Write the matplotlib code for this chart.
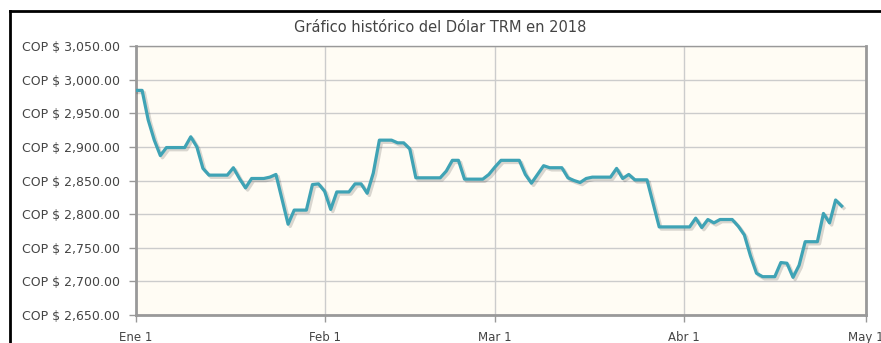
import matplotlib
matplotlib.use("Agg")
import matplotlib.pyplot as plt
import matplotlib.patheffects as pe
from matplotlib.lines import Line2D
from matplotlib.ticker import FuncFormatter
import pandas as pd

# TRM diaria (COP por USD), desde el 1 de enero de 2018
trm = [
    2984, 2984, 2940, 2910, 2887, 2899, 2899, 2899, 2899, 2915,
    2900, 2868, 2858, 2858, 2858, 2858, 2869, 2853, 2839, 2853,
    2853, 2853, 2855, 2859, 2822, 2785, 2806, 2806, 2806, 2844,
    2845, 2834, 2807, 2833, 2833, 2833, 2845, 2845, 2831, 2861,
    2910, 2910, 2910, 2906, 2906, 2897, 2854, 2854, 2854, 2854,
    2854, 2864, 2880, 2880, 2852, 2852, 2852, 2852, 2859, 2870,
    2880, 2880, 2880, 2880, 2859, 2846, 2859, 2872, 2869, 2869,
    2869, 2854, 2850, 2847, 2853, 2855, 2855, 2855, 2855, 2868,
    2853, 2859, 2851, 2851, 2851, 2816, 2781, 2781, 2781, 2781,
    2781, 2781, 2794, 2780, 2792, 2787, 2792, 2792, 2792, 2782,
    2769, 2738, 2712, 2707, 2707, 2707, 2728, 2727, 2706, 2724,
    2759, 2759, 2759, 2801, 2787, 2821, 2812,
]
fechas = pd.date_range("2018-01-01", periods=len(trm), freq="D")

meses = ["Ene 1", "Feb 1", "Mar 1", "Abr 1", "May 1"]
inicio_mes = pd.to_datetime(["2018-01-01", "2018-02-01", "2018-03-01",
                             "2018-04-01", "2018-05-01"])
y_ticks = list(range(2650, 3051, 50))

fig = plt.figure(figsize=(8.81, 3.43), dpi=100)
ax = fig.add_axes([0.1544, 0.0816, 0.983 - 0.1544, 0.8659 - 0.0816])
ax.set_facecolor("#fffcf4")

ax.plot(fechas, trm, color="#3fa3b5", lw=2.3, solid_joinstyle="round",
        path_effects=[pe.SimpleLineShadow(offset=(1.5, -1.5), shadow_color="#000000",
                                          alpha=0.15, linewidth=2.5),
                      pe.Normal()], zorder=3)

ax.set_xlim(inicio_mes[0], inicio_mes[-1])
ax.set_ylim(2650, 3050)
ax.set_xticks(inicio_mes)
ax.set_xticklabels(meses)
ax.set_yticks(y_ticks)
ax.yaxis.set_major_formatter(FuncFormatter(lambda v, p: "COP $ {:,.2f}".format(v)))

ax.grid(True, color="#cccccc", lw=1)
ax.set_axisbelow(True)
ax.tick_params(axis="both", colors="#999999", labelcolor="#444444",
               labelsize=9, length=5, width=1)
ax.tick_params(axis="y", pad=6.5)
ax.tick_params(axis="x", pad=6.5, labelsize=8.5)
for side, sp in ax.spines.items():
    sp.set_color("#999999")
    sp.set_linewidth(2 if side in ("left", "bottom", "right") else 1)

fig.text(0.5, 0.921, "Gráfico histórico del Dólar TRM en 2018", ha="center",
         va="center", fontsize=10.5, color="#444444")

# marco exterior
fig.add_artist(Line2D([0.0114, 1.0], [0.968, 0.968], transform=fig.transFigure,
                      color="black", lw=2))
fig.add_artist(Line2D([0.0114, 0.0114], [0.0, 0.968], transform=fig.transFigure,
                      color="black", lw=2))

fig.savefig("out.png", dpi=100, facecolor="white")
